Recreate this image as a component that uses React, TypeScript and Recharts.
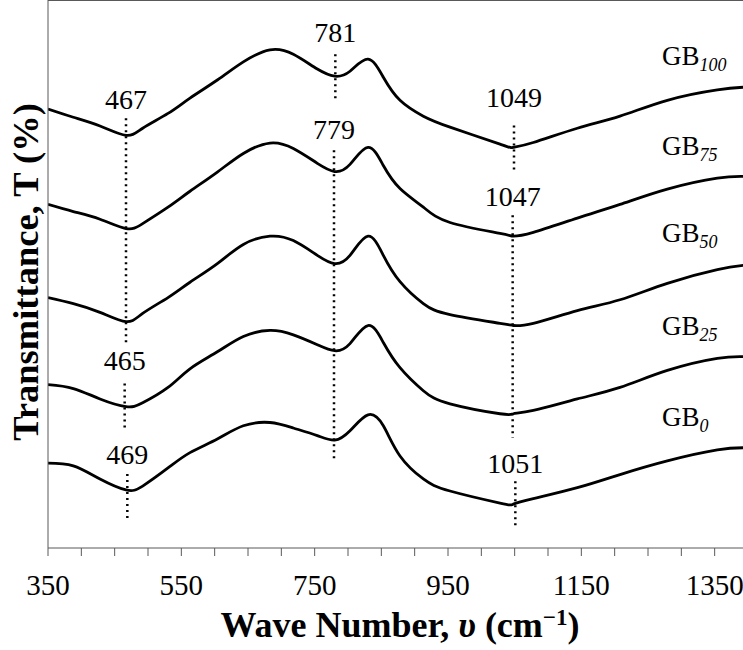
import { LineChart, Line, XAxis, YAxis, ReferenceLine, ReferenceDot } from 'recharts';

// wave numbers (cm-1) sampled along the spectra
const waveNumbers = [350, 388, 428, 467, 492, 530, 563, 604, 643, 683, 718, 754, 780, 803, 830, 853, 878, 913, 953, 1028, 1048, 1078, 1144, 1208, 1279, 1354, 1395];

// transmittance (offset, arbitrary units) per sample
const gb100 = [80.1, 78.6, 77.0, 75.3, 76.6, 79.3, 82.1, 85.4, 88.7, 90.9, 90.1, 87.4, 86.1, 87.0, 89.2, 85.9, 81.7, 78.8, 76.8, 73.7, 73.1, 74.0, 76.6, 78.8, 81.7, 83.6, 84.1];
const gb75 = [62.7, 61.4, 60.0, 58.3, 59.2, 62.2, 65.1, 68.6, 72.0, 73.9, 72.9, 70.2, 68.7, 70.0, 73.1, 69.8, 65.6, 62.2, 59.4, 57.4, 56.9, 57.6, 60.2, 62.7, 65.5, 67.5, 67.8];
const gb50 = [45.7, 44.6, 43.0, 41.3, 42.8, 45.7, 48.5, 51.9, 55.4, 56.9, 56.1, 53.4, 51.9, 53.4, 56.9, 53.4, 48.6, 44.6, 42.6, 41.0, 40.6, 41.0, 43.3, 45.3, 48.3, 50.8, 51.6];
const gb25 = [29.8, 29.1, 27.2, 25.8, 26.5, 29.3, 32.7, 35.8, 38.6, 39.7, 38.9, 37.1, 36.0, 37.3, 40.6, 37.5, 32.9, 28.7, 26.3, 24.5, 24.5, 25.1, 27.2, 29.3, 32.4, 34.6, 34.9];
const gb0 = [15.5, 15.0, 12.6, 10.6, 11.3, 14.6, 17.4, 19.9, 22.3, 22.9, 21.9, 20.5, 19.7, 21.4, 24.3, 22.3, 16.8, 12.6, 10.4, 8.2, 8.0, 9.0, 11.0, 13.4, 15.9, 17.9, 18.3];

const seriesKeys = ['gb100', 'gb75', 'gb50', 'gb25', 'gb0'];
const seriesSubs = ['100', '75', '50', '25', '0'];
const seriesLabelX = 1271;
const seriesLabelY = [88.1, 71.7, 55.8, 38.8, 22.3];

// marked band positions
const peakLabels = ['467', '781', '779', '1049', '1047', '465', '469', '1051'];
const peakX = [467, 781, 779, 1049, 1047, 465, 469, 1051];
const peakTop = [78.4, 90.1, 72.6, 77.1, 60.7, 30.0, 13.5, 12.2];
const peakBottom = [37.5, 81.9, 15.9, 68.9, 20.1, 21.4, 5.1, 3.8];
const peakLabelY = [80.1, 92.3, 74.6, 80.4, 62.5, 32.4, 15.4, 13.7];

const xTicks = [350, 400, 450, 500, 550, 600, 650, 700, 750, 800, 850, 900, 950, 1000, 1050, 1100, 1150, 1200, 1250, 1300, 1350];

const chartData = waveNumbers.map((w, i) => ({
  w,
  gb100: gb100[i],
  gb75: gb75[i],
  gb50: gb50[i],
  gb25: gb25[i],
  gb0: gb0[i],
}));

const FONT = '"Liberation Serif", "Times New Roman", serif';
const AXIS = '#595959';

export default function App() {
  return (
    <div style={{ position: 'absolute', left: 0, top: 0, width: 743, height: 650, overflow: 'hidden', background: '#fff' }}>
      <LineChart width={743} height={650} data={chartData} margin={{ top: 0, right: 0, left: 0, bottom: 0 }}>
        <XAxis
          dataKey="w"
          type="number"
          domain={[350, 1392.5]}
          allowDataOverflow
          ticks={xTicks}
          interval={0}
          tickFormatter={(v) => ((v - 350) % 200 === 0 ? String(v) : '')}
          height={102}
          tickSize={8}
          tickMargin={18}
          stroke={AXIS}
          tick={{ fill: '#000', fontSize: 29, fontFamily: FONT }}
          label={{
            content: () => (
              <text x={400} y={637} textAnchor="middle" fontFamily={FONT} fontWeight="bold" fontSize={36} fill="#000">
                Wave Number, <tspan fontStyle="italic">υ</tspan> (cm
                <tspan dy={-12} fontSize={23}>−1</tspan>
                <tspan dy={12}>)</tspan>
              </text>
            ),
          }}
        />
        <YAxis
          type="number"
          domain={[0, 100]}
          width={48}
          tick={false}
          tickLine={false}
          stroke={AXIS}
          label={{
            content: () => (
              <text
                x={38}
                y={272}
                transform="rotate(-90, 38, 272)"
                textAnchor="middle"
                fontFamily={FONT}
                fontWeight="bold"
                fontSize={36.5}
                fill="#000"
              >
                Transmittance, T (%)
              </text>
            ),
          }}
        />
        <ReferenceLine y={100} stroke={AXIS} strokeWidth={2} />
        {seriesKeys.map((k) => (
          <Line
            key={k}
            dataKey={k}
            type="natural"
            stroke="#000"
            strokeWidth={2.8}
            dot={false}
            isAnimationActive={false}
          />
        ))}
        {peakX.map((x, i) => (
          <ReferenceLine
            key={`seg-${i}`}
            segment={[{ x, y: peakTop[i] }, { x, y: peakBottom[i] }]}
            stroke="#000"
            strokeWidth={2.5}
            strokeDasharray="2 4"
          />
        ))}
        {peakX.map((x, i) => (
          <ReferenceDot
            key={`lbl-${i}`}
            x={x}
            y={peakLabelY[i]}
            r={0}
            shape={(p: any) => (
              <text x={p.cx} y={p.cy} textAnchor="middle" fontFamily={FONT} fontSize={28} fill="#000">
                {peakLabels[i]}
              </text>
            )}
          />
        ))}
        {seriesSubs.map((s, i) => (
          <ReferenceDot
            key={`name-${i}`}
            x={seriesLabelX}
            y={seriesLabelY[i]}
            r={0}
            shape={(p: any) => (
              <text x={p.cx} y={p.cy} fontFamily={FONT} fontSize={27} fill="#000">
                GB<tspan fontStyle="italic" fontSize={18} dy={6}>{s}</tspan>
              </text>
            )}
          />
        ))}
      </LineChart>
    </div>
  );
}
